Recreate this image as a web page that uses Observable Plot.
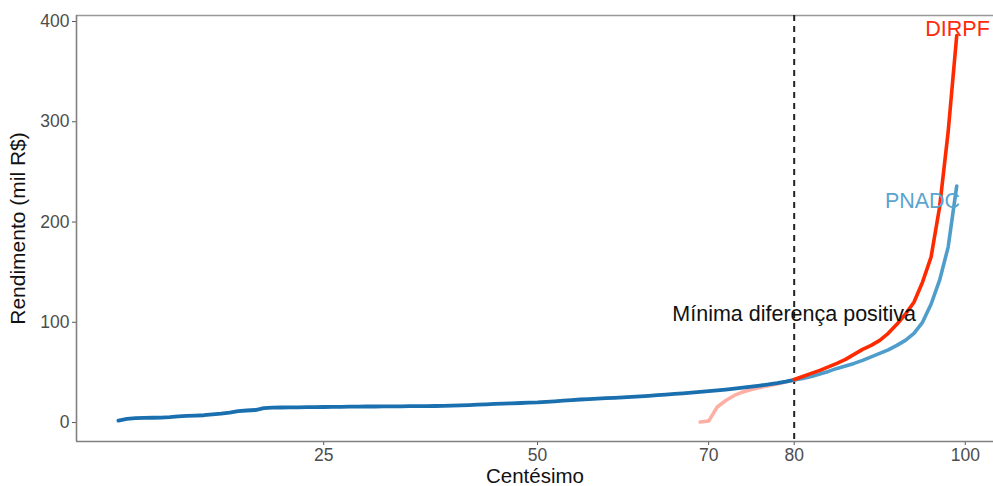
<!DOCTYPE html>
<html><head><meta charset="utf-8">
<script src="https://cdn.jsdelivr.net/npm/d3@7"></script>
<script src="https://cdn.jsdelivr.net/npm/@observablehq/plot@0.6"></script>
<style>
body{margin:0;background:#fff;font-family:"Liberation Sans",Arial,sans-serif}
</style>
</head><body><div id="chart"></div>
<script>
// Common (dark blue) curve, percentiles 1..80
const basePct = [1,2,3,4,5,6,7,8,9,10,11,12,13,14,15,16,17,18,19,20,
  21,22,23,24,25,26,27,28,29,30,31,32,33,34,35,36,37,38,39,40,
  41,42,43,44,45,46,47,48,49,50,51,52,53,54,55,56,57,58,59,60,
  61,62,63,64,65,66,67,68,69,70,71,72,73,74,75,76,77,78,79,80];
const baseVal = [2,3.6,4.4,4.6,4.8,5,5.5,6.2,6.7,7,7.3,8.2,9,10,11.4,12,12.5,14.3,14.9,15,
  15.1,15.2,15.3,15.4,15.5,15.6,15.7,15.8,15.9,16,16,16.1,16.2,16.2,16.3,16.3,16.4,16.5,16.6,16.8,
  17.1,17.4,17.8,18.2,18.6,18.9,19.2,19.5,19.8,20.1,20.6,21.2,21.8,22.4,23,23.4,23.8,24.3,24.7,25.1,
  25.6,26.1,26.7,27.3,27.9,28.5,29.1,29.8,30.5,31.3,32.1,32.9,33.8,34.8,35.8,36.9,38,39.3,40.8,42.5];
// DIRPF lower (faded) portion
const dirpfLowPct = [69,70,71,72,73,74,75,76,77,78,79,80];
const dirpfLowVal = [0.5,1.5,15.5,22,27,30.5,33,35,36.7,38.3,40.3,42.5];
// Upper tail, percentiles 80..99
const topPct = [80,81,82,83,84,85,86,87,88,89,90,91,92,93,94,95,96,97,98,99];
const dirpfVal = [43,46,49,52,55.5,59,63,68,73,77,82,89,98,108,120,140,165,215,290,386];
const pnadcVal = [42.5,44,46,48.5,51,54,56.5,59,62,65.5,69,72.5,77,82,89,100,118,142,175,236];
const xTicks = [25,50,70,80,100];
const yTicks = [0,100,200,300,400];
const cutoff = [80];
const annot = [{x:80, y:108, text:"Mínima diferença positiva"}];
const seriesLabels = [
  {x:99.1, y:392, text:"DIRPF", color:"#ff2a0a"},
  {x:95.0, y:221, text:"PNADC", color:"#5aa4d0"}
];

const base = basePct.map((p,i)=>({p, v:baseVal[i]}));
const low = dirpfLowPct.map((p,i)=>({p, v:dirpfLowVal[i]}));
const dirpf = topPct.map((p,i)=>({p, v:dirpfVal[i]}));
const pnadc = topPct.map((p,i)=>({p, v:pnadcVal[i]}));

const xDom = [-3.9, 103.3];
const yDom = [-18.9, 406];

const chart = Plot.plot({
  width: 993,
  height: 486,
  marginLeft: 76,
  marginRight: 0,
  marginTop: 15,
  marginBottom: 45,
  style: {fontFamily: '"Liberation Sans", Arial, sans-serif', background: "#fff"},
  x: {domain: xDom},
  y: {domain: yDom},
  marks: [
    Plot.axisX({ticks: xTicks, tickSize: 4, tickPadding: 3, fontSize: 17.5, color: "#4d4d4d", label: null, stroke: "#555"}),
    Plot.axisY({ticks: yTicks, tickSize: 4, tickPadding: 3, fontSize: 17.5, color: "#4d4d4d", label: null, stroke: "#555"}),
    Plot.axisX({ticks: [], label: "Centésimo", labelAnchor: "center", labelArrow: "none", labelOffset: 41, fontSize: 20.5, color: "#111", tickSize: 0}),
    Plot.axisY({ticks: [], label: "Rendimento (mil R$)", labelAnchor: "center", labelArrow: "none", labelOffset: 66, fontSize: 21, color: "#111", tickSize: 0}),
    Plot.ruleY([yDom[0]], {stroke: "#808080", strokeWidth: 1.6}),
    Plot.ruleY([yDom[1]], {stroke: "#999", strokeWidth: 1.4}),
    Plot.ruleX([xDom[0]], {stroke: "#808080", strokeWidth: 1.6}),
    Plot.ruleX(cutoff, {stroke: "#222", strokeWidth: 2, strokeDasharray: "6,5"}),
    Plot.line(low, {x: "p", y: "v", stroke: "#ffaea4", strokeWidth: 3.5}),
    Plot.line(base, {x: "p", y: "v", stroke: "#1a6fae", strokeWidth: 3.8}),
    Plot.line(pnadc, {x: "p", y: "v", stroke: "#4f9dcb", strokeWidth: 3.6}),
    Plot.line(dirpf, {x: "p", y: "v", stroke: "#ff2a00", strokeWidth: 3.6}),
    Plot.text(annot, {x: "x", y: "y", text: "text", fontSize: 21.5, fill: "#111"}),
    Plot.text(seriesLabels, {x: "x", y: "y", text: "text", fill: "color", fontSize: 21.5})
  ]
});
document.getElementById("chart").appendChild(chart);
</script>
</body></html>
